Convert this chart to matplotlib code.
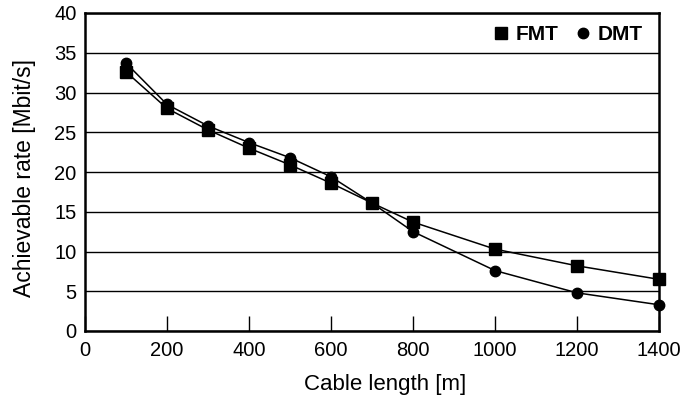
import numpy as np
import matplotlib.pyplot as plt

plt.rcParams['font.family'] = ['Liberation Sans', 'DejaVu Sans']

# Cable length [m]
cable_length = [100, 200, 300, 400, 500, 600, 700, 800, 1000, 1200, 1400]
# Achievable rates [Mbit/s]
fmt_rate = [32.6, 28.0, 25.3, 23.0, 20.9, 18.6, 16.1, 13.7, 10.3, 8.2, 6.5]
dmt_rate = [33.7, 28.5, 25.8, 23.7, 21.8, 19.4, 16.1, 12.5, 7.6, 4.8, 3.3]

fig = plt.figure(figsize=(6.96, 4.0), dpi=100)
ax = fig.add_axes([85 / 696, 1 - 331 / 400, (659 - 85) / 696, (331 - 13) / 400])

ax.plot(cable_length, fmt_rate, color='black', lw=1.1, marker='s', ms=8, label='FMT',
        clip_on=False, zorder=3)
ax.plot(cable_length, dmt_rate, color='black', lw=1.1, marker='o', ms=7.5, label='DMT',
        clip_on=False, zorder=3)

ax.set_xlim(0, 1400)
ax.set_ylim(0, 40)
ax.set_xticks(np.arange(0, 1401, 200))
ax.set_yticks(np.arange(0, 41, 5))
ax.yaxis.grid(True, color='black', lw=1)
ax.set_axisbelow(True)
ax.tick_params(axis='x', direction='in', length=11, width=1, labelsize=14.5, pad=7)
ax.tick_params(axis='y', direction='in', length=0, labelsize=14.5, pad=6)
for s in ax.spines.values():
    s.set_linewidth(1.8)

ax.set_xlabel('Cable length [m]', fontsize=16)
ax.xaxis.set_label_coords(0.523, -0.135, transform=ax.transAxes)
ax.xaxis.label.set_va('top')
ax.set_ylabel('Achievable rate [Mbit/s]', fontsize=16.5)
ax.yaxis.set_label_coords(-0.085, 0.48)

leg = ax.legend(loc='upper right', ncol=2, frameon=False, handlelength=0.6,
                handletextpad=0.4, columnspacing=0.9,
                prop={'weight': 'bold', 'size': 15}, bbox_to_anchor=(1.005, 1.02))
for h in leg.legend_handles:
    h.set_linestyle('none')

fig.savefig('out.png', dpi=100)
